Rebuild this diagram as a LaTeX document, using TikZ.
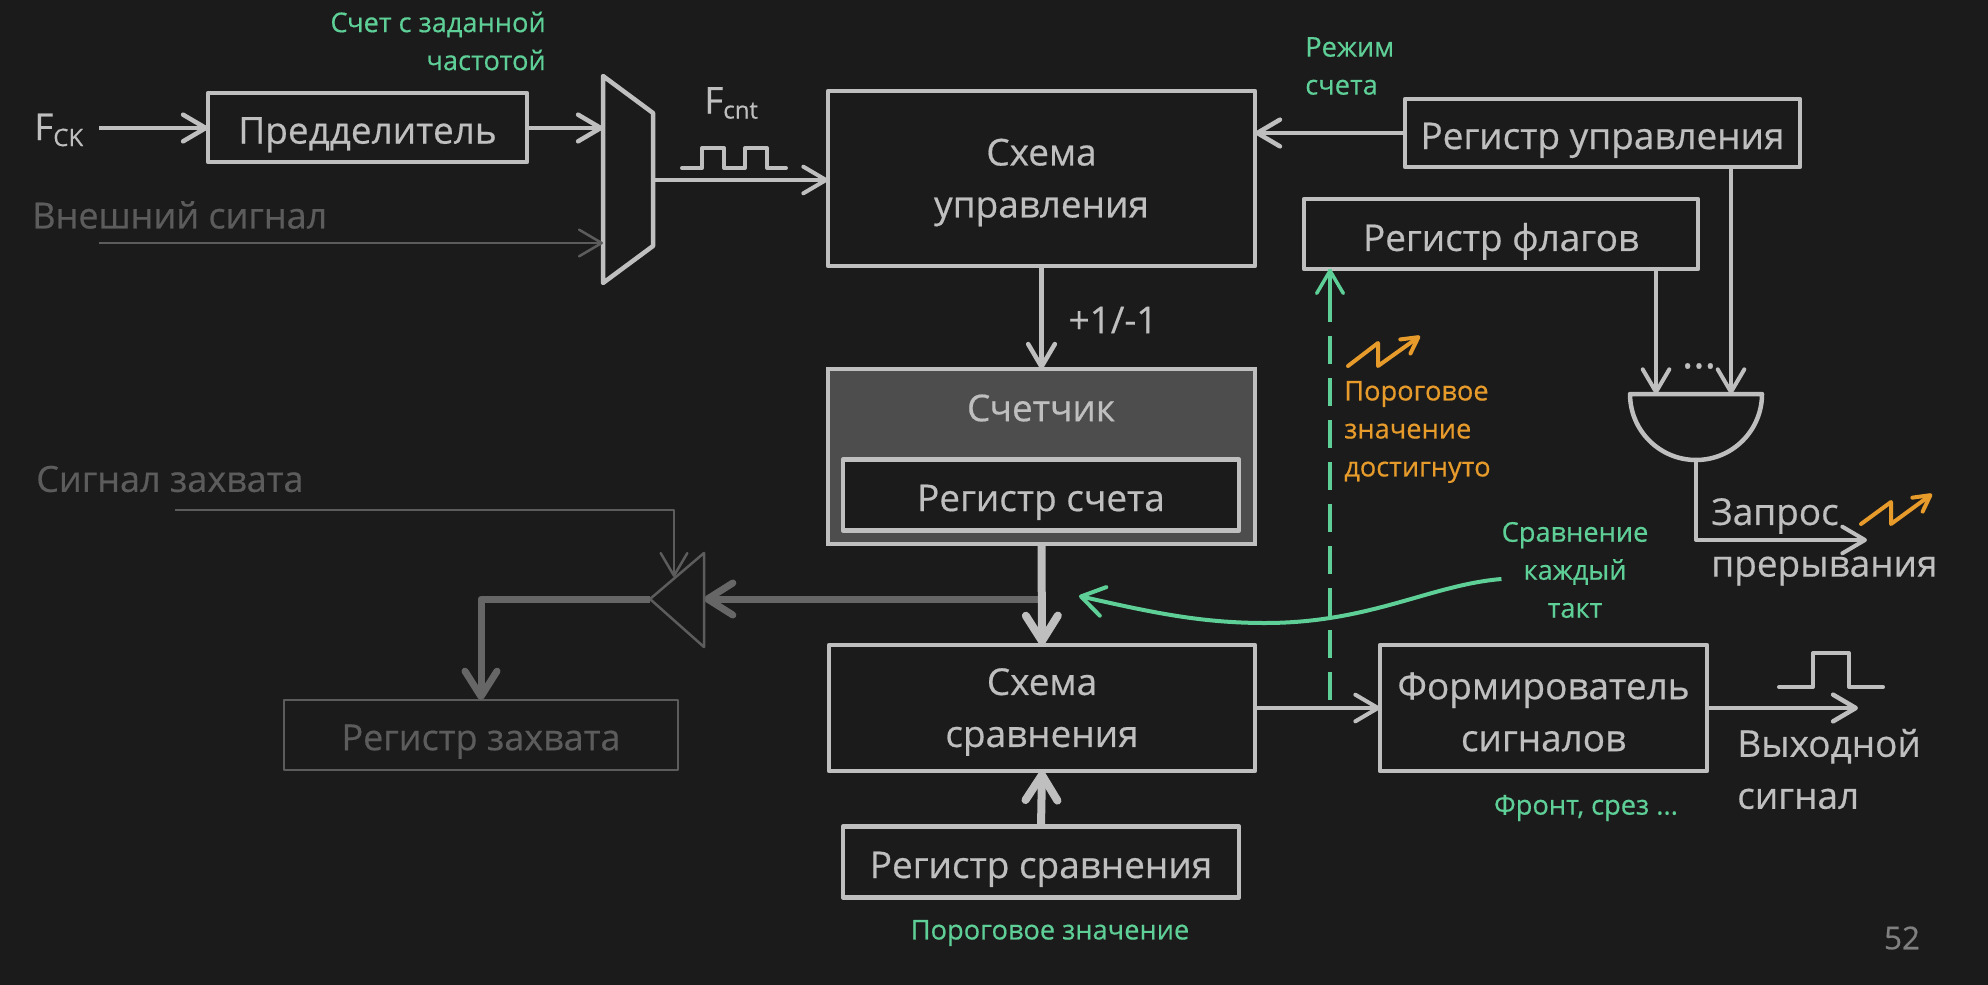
\documentclass[tikz,border=0pt]{standalone}
\usepackage{fontspec}
\setmainfont{Open Sans}[FakeBold=0.5]
\usetikzlibrary{arrows.meta}
\definecolor{bgc}{HTML}{1B1B1B}
\definecolor{lne}{HTML}{BFBFBF}
\definecolor{dim}{HTML}{5C5C5C}
\definecolor{dimthick}{HTML}{666666}
\definecolor{grn}{HTML}{5ECF96}
\definecolor{org}{HTML}{E79B2B}
\definecolor{cntfill}{HTML}{4D4D4D}
\definecolor{pgc}{HTML}{808080}
\tikzset{
  lw/.style={line width=#1*0.75pt},
  boxsize/.style 2 args={minimum width=#1*0.75pt, minimum height=#2*0.75pt},
  bigtxt/.style={font=\fontsize{27.7}{39}\selectfont, text=lne, align=center},
  smalltxt/.style={font=\fontsize{20.4}{28.5}\selectfont, align=center, inner sep=0pt},
  gtxt/.style={smalltxt, text=grn},
  otxt/.style={smalltxt, text=org},
  dimtxt/.style={font=\fontsize{27}{39}\selectfont, text=dim, inner sep=0pt},
  plainbox/.style={draw=lne, lw=4.5, fill=bgc, inner sep=0pt, outer sep=0pt, line join=round},
  dimbox/.style={draw=dim, lw=2.5, fill=bgc, inner sep=0pt, outer sep=0pt, line join=round},
  lab/.style={bigtxt, inner sep=0pt},
  boxtext/.style={label={[lab,yshift=-3pt]center:#1}},
  linetext/.style={label={[lab,yshift=-5.5pt]center:#1}},
  dimboxtext/.style={label={[dimtxt,yshift=-5pt]center:#1}},
  barb/.tip={Straight Barb[length=17pt,width=20pt,round]},
  tbarb/.tip={Straight Barb[length=19pt,width=24pt,round]},
  wire/.style={draw=lne, lw=4.5, line join=round, -{barb}},
  thick wire/.style={draw=lne, lw=8, -{tbarb}},
  dimwire/.style={draw=dim, lw=2.5, line join=round, -{barb}},
  dimthickwire/.style={draw=dimthick, lw=7, line join=round, -{tbarb}},
  shapeline/.style={draw=lne, lw=4.5, line join=round},
  zig/.style={draw=org, lw=4, line join=round, line cap=round, -{Straight Barb[length=12pt,width=13pt,round]}},
}
\begin{document}
\begin{tikzpicture}[x=0.75pt,y=-0.75pt]
\fill[bgc] (0,0) rectangle (1988,985);
\useasboundingbox (0,0) rectangle (1988,985);

% boxes
\node[plainbox, boxsize={319}{69}, linetext={Предделитель}] (pre) at (367.5,127.5) {};
\node[plainbox, boxsize={427}{175}, boxtext={Схема\\управления}] (ctrl) at (1041.5,178.5) {};
\node[plainbox, boxsize={395}{68}, linetext={Регистр управления}] (rctl) at (1602.5,133) {};
\node[plainbox, boxsize={394}{70}, linetext={Регистр флагов}] (rflag) at (1501,234) {};
\node[draw=lne, lw=4.5, fill=cntfill, inner sep=0pt, outer sep=0pt, boxsize={427}{175}] (cnt) at (1041.5,456.5) {};
\node[lab] (cntt) at (1041,408) {Счетчик};
\node[plainbox, boxsize={396}{71}, linetext={Регистр счета}] (rcnt) at (1041,495) {};
\node[plainbox, boxsize={426}{126}, boxtext={Схема\\сравнения}] (cmp) at (1042,708) {};
\node[plainbox, boxsize={396}{71}, linetext={Регистр сравнения}] (rcmp) at (1041,862) {};
\node[dimbox, boxsize={394}{70}, dimboxtext={Регистр захвата}] (rcap) at (481,735) {};
\node[plainbox, boxsize={327}{126}, boxtext={Формирователь\\сигналов}] (form) at (1543.5,708) {};

% labels
\node[lab, anchor=west] (fck) at (34,130) {F\textsubscript{\fontsize{18}{18}\selectfont CK}};
\node[dimtxt, anchor=west] (ext) at (32,215) {Внешний сигнал};
\node[dimtxt, anchor=west] (capt) at (36,479) {Сигнал захвата};
\node[lab, anchor=west] (fcnt) at (704,103) {F\textsubscript{\fontsize{18}{18}\selectfont cnt}};
\node[lab] (pm) at (1113,320) {+1/-1};
\node[lab, anchor=west] (req1) at (1711,516) {Запрос};
\node[lab, anchor=west] (req2) at (1711,571) {прерывания};
\node[lab, anchor=west, align=left] (outs) at (1737,769) {Выходной\\сигнал};
\node[gtxt, align=right, anchor=east] (tfreq) at (546,41) {Счет с заданной\\частотой};
\node[gtxt, align=left, anchor=west] (tmode) at (1305,66) {Режим\\счета};
\node[otxt, align=left, anchor=west] (tthr) at (1344,432) {Пороговое\\значение\\достигнуто};
\node[gtxt] (tcmp) at (1575,570) {Сравнение\\каждый\\такт};
\node[gtxt] (tedge) at (1586,808) {Фронт, срез ...};
\node[gtxt] (tval) at (1050,933) {Пороговое значение};
\node[font=\fontsize{23.6}{24}\selectfont, text=pgc, inner sep=0pt] (pg) at (1902,938) {52};
\node[lab, font=\fontsize{32}{32}\selectfont] (dots) at (1699,366) {...};

% named points
\coordinate (fckin) at (99,128);
\coordinate (extin) at (99,243);
\coordinate (m1) at (603,76);
\coordinate (m2) at (653,113);
\coordinate (m3) at (653,246);
\coordinate (m4) at (603,283);
\coordinate (mout) at (653,180);
\coordinate (ctrlin) at (828,180);
\coordinate (gTL) at (1630,394);
\coordinate (gTR) at (1762,394);
\coordinate (gB) at (1696,460);
\coordinate (ga) at (1656,394);
\coordinate (gb) at (1731,394);
\coordinate (reqend) at (1867,540);
\coordinate (reqcorner) at (1696,540);
\coordinate (t1) at (704,553);
\coordinate (t2) at (704,647);
\coordinate (t3) at (650,599);
\coordinate (tin) at (674,577);
\coordinate (capstart) at (175,510);
\coordinate (branch) at (1038,599);
\coordinate (outend) at (1858,708);
\coordinate (dashb) at (1330,700);

% mux
\draw[shapeline] (m1) -- (m2) -- (m3) -- (m4) -- cycle;
% pulse trains
\draw[draw=lne, lw=4, line join=round, line cap=round] (682,168) -- (702,168) -- (702,148) -- (724,148) -- (724,168) -- (745,168) -- (745,148) -- (767,148) -- (767,168) -- (786,168);
\draw[draw=lne, lw=4, line join=round, line cap=round] (1779,687) -- (1813,687) -- (1813,653) -- (1849,653) -- (1849,687) -- (1883,687);

% connectors
\draw[wire] (fckin) -- (pre.west |- fckin);
\draw[wire] (pre.east |- fckin) -- (m1 |- fckin);
\draw[dimwire] (extin) -- (m1 |- extin);
\draw[wire, lw=4] (mout) -- (ctrlin);
\draw[wire] (rctl.west) -- (ctrl.east |- rctl.west);
\draw[wire] (ctrl.south) -- (cnt.north);
\draw[dimthickwire] (branch) -- (t1 |- branch);
\draw[thick wire] (cnt.south) -- (cmp.north);
\draw[thick wire] (rcmp.north) -- (cmp.south);
\draw[wire, lw=4] (cmp.east) -- (form.west);
\draw[wire] (form.east) -- (outend);
\draw[dimwire] (capstart) -- (capstart -| tin) -- (tin);
\draw[draw=dim, lw=2.5, line join=round] (t1) -- (t2) -- (t3) -- cycle;
\draw[dimthickwire] (t3) -- (rcap.north |- t3) -- (rcap.north);

% AND gate
\draw[shapeline, fill=bgc] (gTL) -- (gTR) arc[start angle=0, end angle=180, x radius=66, y radius=66] -- cycle;
\draw[wire, lw=4] (rflag.south -| ga) -- (ga);
\draw[wire, lw=4] (rctl.south -| gb) -- (gb);
\draw[wire, lw=4] (gB) -- (reqcorner) -- (reqend);

% green annotations
\draw[draw=grn, lw=3.5, dash pattern=on 21pt off 10.5pt] (dashb) -- (rflag.south -| dashb);
\draw[draw=grn, lw=3.5, -{barb}] (rflag.south -| dashb) ++(0,26) -- (rflag.south -| dashb);
\draw[draw=grn, lw=4, -{Straight Barb[length=17pt,width=22pt,round]}] (tcmp.west |- 0,579) .. controls (1430,585) and (1370,623) .. (1265,623) .. controls (1200,623) and (1150,612) .. (1079,596);

% zig-zags
\draw[zig] (1348,366) -- (1378,343) -- (1378,366) -- (1420,336);
\draw[zig] (1861,524) -- (1891,502) -- (1891,524) -- (1932,494);
\end{tikzpicture}
\end{document}
